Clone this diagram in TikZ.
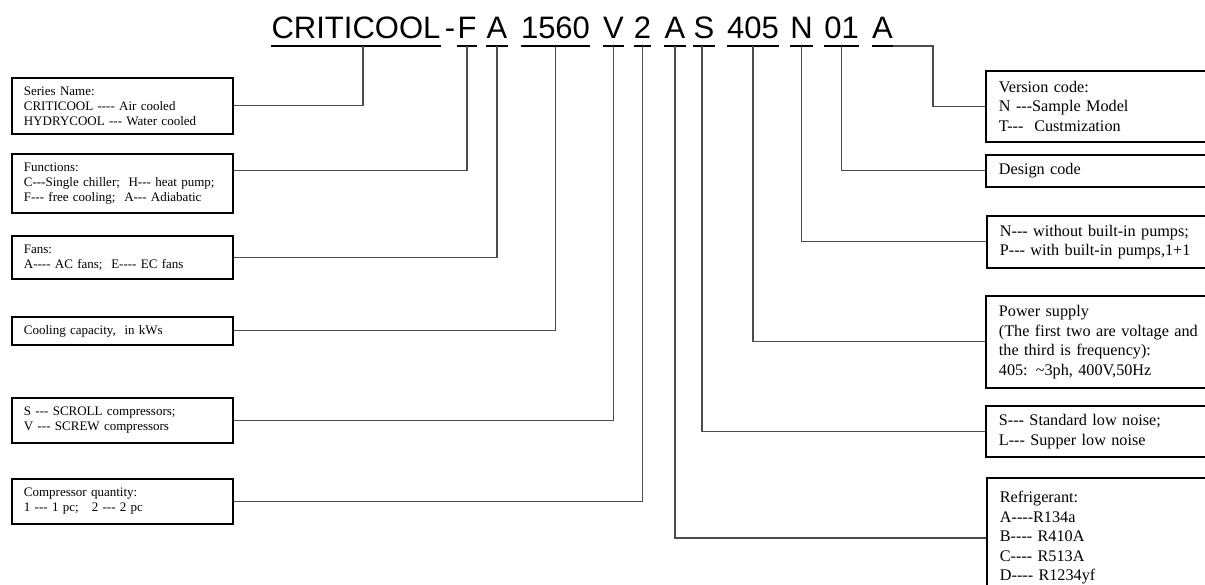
\documentclass[tikz,border=0pt]{standalone}
\usepackage{fontspec}
\newfontfamily\boxfont{Liberation Serif}
\newfontfamily\titlefont{Liberation Sans}
\begin{document}
\begin{tikzpicture}[x=1pt,y=-1pt,
  lbox/.style={draw=black, line width=1.8pt, anchor=north west, align=left,
    text width=197pt, inner xsep=12pt, inner ysep=0pt,
    font=\boxfont\fontsize{13}{15}\selectfont},
  rbox/.style={draw=black, line width=1.8pt, anchor=north west, align=left,
    text width=240pt, inner xsep=13pt, inner ysep=0pt,
    font=\boxfont\fontsize{16.2}{19.5}\selectfont},
  seg/.style={anchor=base, inner sep=0pt, font=\titlefont\fontsize{31}{36}\selectfont},
  uline/.style={line width=2pt, black},
  conn/.style={line width=1.2pt, black!70}]
\useasboundingbox (0,0) rectangle (1205,585);
\fill[white] (0,0) rectangle (1205,585);
\clip (0,0) rectangle (1205,585);

% title segments
\node[seg] (cc)   at (356,39)   {CRITICOOL};
\node[seg] (hy)   at (450,39)   {-};
\node[seg] (f)    at (467,39)   {F};
\node[seg] (a1)   at (497,39)   {A};
\node[seg] (cap)  at (555.5,39) {1560};
\node[seg] (v)    at (613.5,39) {V};
\node[seg] (two)  at (642.5,39) {2};
\node[seg] (a2)   at (675,39)   {A};
\node[seg] (s)    at (704,39)   {S};
\node[seg] (volt) at (753,39)   {405};
\node[seg] (n)    at (801.5,39) {N};
\node[seg] (dc)   at (841.5,39) {01};
\node[seg] (a3)   at (882.5,39) {A};
\foreach \k in {cc,f,a1,cap,v,two,a2,s,volt,n,dc,a3}
  \draw[uline] ([yshift=-7pt]\k.base west) -- ([yshift=-7pt]\k.base east);

% left boxes
\node[lbox, minimum height=56pt] (series) at (11,77)
  {Series Name:\\CRITICOOL ---- Air cooled\\HYDRYCOOL --- Water cooled};
\node[lbox, minimum height=59pt] (fun) at (11,153)
  {Functions:\\C---Single chiller;\ \ H--- heat pump;\\F--- free cooling;\ \ A--- Adiabatic};
\node[lbox, minimum height=43pt] (fans) at (11,235)
  {Fans:\\A---- AC fans;\ \ E---- EC fans};
\node[lbox, minimum height=28pt] (cool) at (11,316)
  {Cooling capacity,\ \ in kWs};
\node[lbox, minimum height=45pt] (comp) at (11,397)
  {S --- SCROLL compressors;\\V --- SCREW compressors};
\node[lbox, minimum height=45pt] (qty) at (11,478)
  {Compressor quantity:\\1 --- 1 pc;\ \ \ 2 --- 2 pc};

% right boxes
\node[rbox, minimum height=71pt] (ver) at (985,70)
  {Version code:\\N ---Sample Model\\T---\ \ Custmization};
\node[rbox, minimum height=32pt] (design) at (985,154)
  {Design code};
\node[rbox, minimum height=52pt] (pump) at (986,215)
  {N--- without built-in pumps;\\P--- with built-in pumps,1+1};
\node[rbox, minimum height=92pt] (power) at (985,295)
  {Power supply\\(The first two are voltage and\\the third is frequency):\\405: {\char"7E}3ph, 400V,50Hz};
\node[rbox, minimum height=51pt] (noise) at (985,405)
  {S--- Standard low noise;\\L--- Supper low noise};
\node[rbox, minimum height=120pt] (ref) at (986,477)
  {Refrigerant:\\A----R134a\\B---- R410A\\C---- R513A\\D---- R1234yf};

% connectors
\draw[conn] ([xshift=7pt,yshift=-7pt]cc.base) |- (series.east);
\draw[conn] ([yshift=-7pt]f.base) |- ([yshift=13pt]fun.east);
\draw[conn] ([yshift=-7pt]a1.base) |- (fans.east);
\draw[conn] ([yshift=-7pt]cap.base) |- (cool.east);
\draw[conn] ([yshift=-7pt]v.base) |- (comp.east);
\draw[conn] ([yshift=-7pt]two.base) |- (qty.east);
\draw[conn] ([yshift=-7pt]a2.base) |- (ref.west);
\draw[conn] ([xshift=-2pt,yshift=-7pt]s.base) |- (noise.west);
\draw[conn] ([yshift=-7pt]volt.base) |- (power.west);
\draw[conn] ([yshift=-7pt]n.base) |- (pump.west);
\draw[conn] ([yshift=-7pt]dc.base) |- (design.west);
\draw[conn] ([yshift=-7pt]a3.base east) -- ++(40,0) |- (ver.west);
\end{tikzpicture}
\end{document}
